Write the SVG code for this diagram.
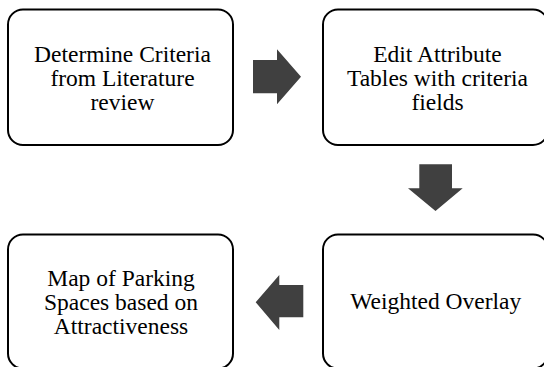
<svg xmlns="http://www.w3.org/2000/svg" width="544" height="367" viewBox="0 0 544 367">
<style>
.box{fill:#fff;stroke:#000;stroke-width:2}
.lbl{font-size:23.5px;fill:#000;text-anchor:middle}
.arr{fill:#404040;stroke:none}
</style>
<rect width="544" height="367" fill="#fff"/>
<g id="node1" font-family="Liberation Serif, DejaVu Serif, serif">
<rect class="box" x="8" y="9.5" width="225" height="135.5" rx="15" ry="15"/>
<text class="lbl" x="122.5" y="61.7">Determine Criteria</text>
<text class="lbl" x="122.5" y="86">from Literature</text>
<text class="lbl" x="122.5" y="110">review</text>
</g>
<g id="node2" font-family="Liberation Serif, DejaVu Serif, serif">
<rect class="box" x="323" y="9.5" width="225" height="135.5" rx="15" ry="15"/>
<text class="lbl" x="437.5" y="61.7">Edit Attribute</text>
<text class="lbl" x="437.5" y="86">Tables with criteria</text>
<text class="lbl" x="437.5" y="110">fields</text>
</g>
<g id="node3" font-family="Liberation Serif, DejaVu Serif, serif">
<rect class="box" x="8" y="234.5" width="225" height="134" rx="15" ry="15"/>
<text class="lbl" x="121" y="285.7">Map of Parking</text>
<text class="lbl" x="121" y="309.5">Spaces based on</text>
<text class="lbl" x="121" y="333.5">Attractiveness</text>
</g>
<g id="node4" font-family="Liberation Serif, DejaVu Serif, serif">
<rect class="box" x="323" y="234.5" width="225" height="134" rx="15" ry="15"/>
<text class="lbl" x="435.7" y="309">Weighted Overlay</text>
</g>
<g id="connectors">
<polygon class="arr" points="253,60 277,60 277,49.3 301,76.7 277,104.3 277,93.3 253,93.3"/>
<polygon class="arr" points="419.3,164.3 452,164.3 452,188.3 462.7,188.3 435.5,211 408,188.3 419.3,188.3"/>
<polygon class="arr" points="303.3,285 279.3,285 279.3,275 255.7,302.3 279.3,330 279.3,317.3 303.3,317.3"/>
</g>
</svg>
